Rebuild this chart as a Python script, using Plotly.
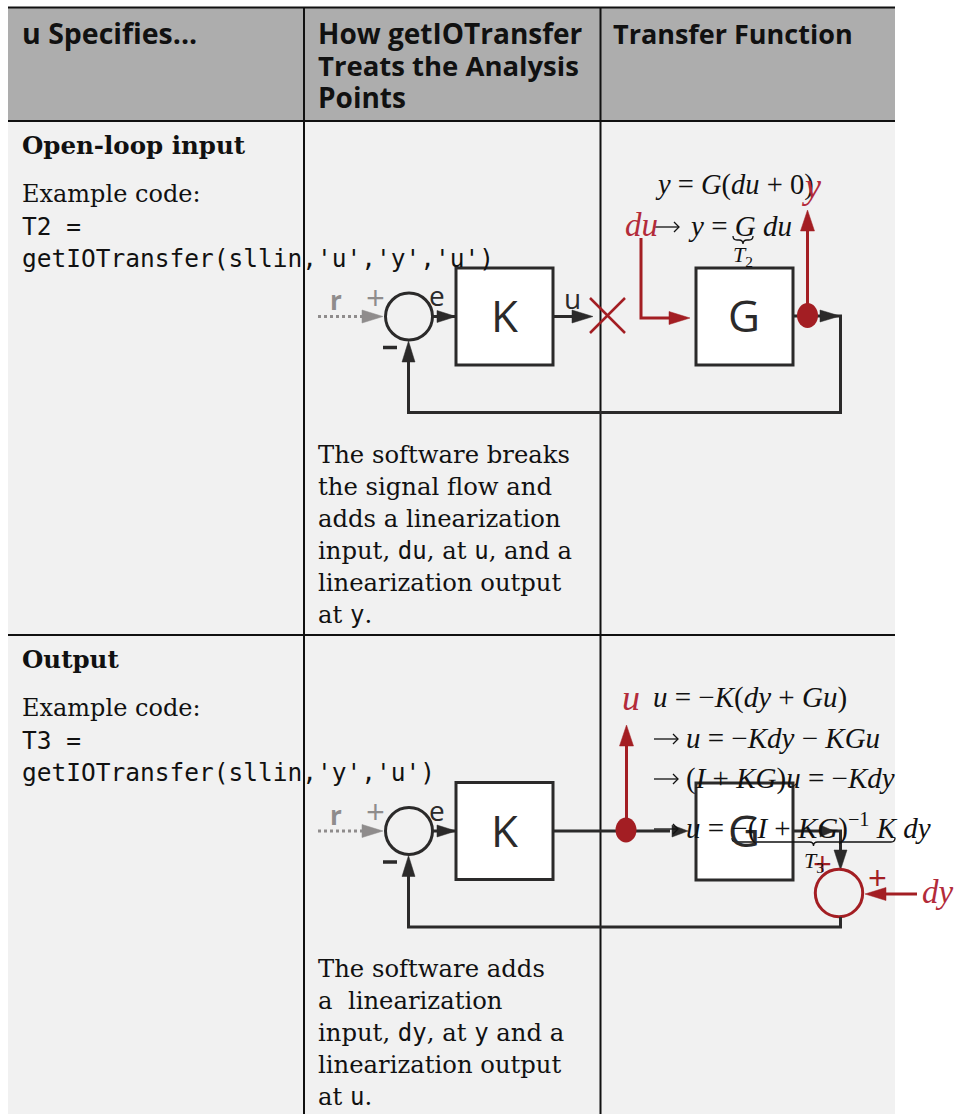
import plotly.graph_objects as go

# table text
col_heads = ["u Specifies...", "How getIOTransfer", "Treats the Analysis", "Points", "Transfer Function"]
row_titles = ["Open-loop input", "Output"]
example_label = "Example code:"
code_row1 = ["T2 =", "getIOTransfer(sllin,'u','y','u')"]
code_row2 = ["T3 =", "getIOTransfer(sllin,'y','u')"]
MONO = "DejaVu Sans Mono"
SERIF = "DejaVu Serif"
MATH = "Liberation Serif"
SANS = "Open Sans"
HEAD = "Open Sans"


def m(s):
    return f'<span style="font-family:{MONO};font-size:24px">{s}</span>'


notes_row1 = ["The software breaks", "the signal flow and", "adds a linearization",
              f"input, {m('du')}, at {m('u')}, and a", "linearization output", f"at {m('y')}."]
notes_row2 = ["The software adds", "a  linearization", f"input, {m('dy')}, at {m('y')} and a",
              "linearization output", f"at {m('u')}."]

INK = "#2b2a2a"
RED = "#a31e23"
MATH_RED = "#b32b3a"
GREY = "#8f8c8c"

shapes = []
notes = []


def text(x, y, s, size, color="#111111", font=SERIF, anchor="left", bold=False):
    notes.append(dict(x=x, y=y, text=f"<b>{s}</b>" if bold else s, showarrow=False, xanchor=anchor,
                      yanchor="middle", align="left", borderpad=0, borderwidth=0,
                      font=dict(size=size, color=color, family=font)))


def line(pts, color=INK, width=3, dash=None):
    path = "M" + " L".join(f"{a},{b}" for a, b in pts)
    shapes.append(dict(type="path", path=path, line=dict(color=color, width=width, dash=dash)))


def rect(x0, y0, x1, y1, fill, color=INK, width=3):
    shapes.append(dict(type="rect", x0=x0, y0=y0, x1=x1, y1=y1, fillcolor=fill,
                       line=dict(color=color, width=width)))


def oval(cx, cy, rx, ry, fill="rgba(0,0,0,0)", color=INK, width=3):
    shapes.append(dict(type="circle", x0=cx - rx, y0=cy - ry, x1=cx + rx, y1=cy + ry,
                       fillcolor=fill, line=dict(color=color, width=width)))


def head(tx, ty, dx, dy, length=21, half=6.5, color=INK):
    # triangle with its tip at tx,ty pointing along dx,dy
    bx, by = tx - dx * length, ty - dy * length
    path = f"M{tx},{ty} L{bx - dy * half},{by - dx * half} L{bx + dy * half},{by + dx * half} Z"
    shapes.append(dict(type="path", path=path, fillcolor=color, line=dict(color=color, width=0.5)))


def brace(x0, x1, y, h):
    mid = (x0 + x1) / 2
    path = (f"M{x0},{y} Q{x0},{y + h / 2} {x0 + 4},{y + h / 2} L{mid - 4},{y + h / 2} "
            f"Q{mid},{y + h / 2} {mid},{y + h} Q{mid},{y + h / 2} {mid + 4},{y + h / 2} "
            f"L{x1 - 4},{y + h / 2} Q{x1},{y + h / 2} {x1},{y}")
    shapes.append(dict(type="path", path=path, line=dict(color="#111111", width=1.3)))


def math_arrow(x, y):
    line([(x, y), (x + 24, y)], color="#111111", width=1.3)
    line([(x + 19, y - 5), (x + 24, y), (x + 19, y + 5)], color="#111111", width=1.3)


def loop_front(dy):
    # reference path, summing circle and K block, shared by both rows
    rect(456, 268 + dy, 553, 365 + dy, "white")
    oval(409, 316.5 + dy, 23.5, 23.5)
    line([(318, 316.5 + dy), (362, 316.5 + dy)], color=GREY, width=3, dash="dot")
    head(383, 316.5 + dy, 1, 0, color=GREY)
    line([(433, 316.5 + dy), (456, 316.5 + dy)])
    head(456, 316.5 + dy, 1, 0, length=19, half=6)
    head(408.5, 341 + dy, 0, -1, length=21, half=6.5)
    line([(383, 347.5 + dy), (397, 347.5 + dy)], width=3.5)
    text(336, 300 + dy, "<b>r</b>", 26, GREY, SANS, "center")
    text(375, 297 + dy, "+", 33, GREY, SANS, "center")
    text(437, 295 + dy, "e", 28, INK, SANS, "center")
    text(504.5, 315 + dy, "K", 44, INK, SANS, "center")


# table background, header and rules
rect(8, 121, 895, 1114, "#f1f1f1", "#f1f1f1", 0)
rect(8, 8, 895, 121, "#adadad", "#adadad", 0)
line([(8, 7.5), (895, 7.5)], "#111111", 2)
line([(8, 121), (895, 121)], "#111111", 2)
line([(8, 635), (895, 635)], "#111111", 2)
line([(304, 8), (304, 1114)], "#111111", 2)
line([(600.5, 8), (600.5, 1114)], "#111111", 2)

text(22, 33, col_heads[0], 28.5, "#111111", HEAD, bold=True)
text(318, 33, col_heads[1], 28, "#111111", HEAD, bold=True)
text(318, 65, col_heads[2], 27.5, "#111111", HEAD, bold=True)
text(318, 97, col_heads[3], 28, "#111111", HEAD, bold=True)
text(613, 33, col_heads[4], 27, "#111111", HEAD, bold=True)

# first column
text(22, 145, row_titles[0], 24.5, bold=True)
text(22, 194, example_label, 24)
text(22, 226, code_row1[0], 24.5, font=MONO)
text(22, 258, code_row1[1], 24.5, font=MONO)
text(22, 659, row_titles[1], 24.5, bold=True)
text(22, 708, example_label, 24)
text(22, 740, code_row2[0], 24.5, font=MONO)
text(22, 772, code_row2[1], 24.5, font=MONO)

# second column notes
for y, s in zip([454, 486, 518, 550, 582, 614], notes_row1):
    text(318, y, s, 24.3)
for y, s in zip([968, 1000, 1032, 1064, 1096], notes_row2):
    text(318, y, s, 24.3)

# open-loop input diagram
loop_front(0)
line([(553, 316.5), (575, 316.5)])
head(593, 316.5, 1, 0)
text(572, 298, "u", 28, INK, SANS, "center")
line([(590, 298), (625, 333)], RED, 2.5)
line([(590, 333), (625, 298)], RED, 2.5)
line([(408.5, 360), (408.5, 412.5), (840.5, 412.5), (840.5, 316), (793, 316)])
head(840, 316, 1, 0, length=20, half=6)
rect(696, 268, 793, 365, "white")
text(744, 315, "G", 44, INK, SANS, "center")
oval(807.5, 315.5, 10.5, 12.5, RED, RED, 0)
line([(807.5, 230), (807.5, 315)], RED, 3)
head(807.5, 210, 0, -1, half=7, color=RED)
line([(641, 238), (641, 318), (670, 318)], RED, 3)
head(690, 318, 1, 0, color=RED)

text(655, 185, "<i>y</i> = <i>G</i>(<i>du</i> + 0)", 28.5, font=MATH)
text(802, 186, "<i>y</i>", 36, MATH_RED, MATH)
text(625, 225, "<i>du</i>", 33, MATH_RED, MATH)
math_arrow(655, 227)
text(688, 226, "<i>y</i> = <i>G du</i>", 29, font=MATH)
brace(733, 753, 236, 8)
text(733, 256, "<i>T</i><sub>2</sub>", 22, font=MATH)

# output diagram
loop_front(514.5)
line([(553, 831), (670, 831)])
head(688, 831, 1, 0, length=16, half=6)
rect(696, 783, 793, 880, "white")
text(744, 829.5, "G", 44, INK, SANS, "center")
oval(626, 830, 10.5, 12.5, RED, RED, 0)
line([(626.5, 745), (626.5, 830)], RED, 3)
head(626.5, 725, 0, -1, half=7, color=RED)
line([(793, 831), (840.5, 831), (840.5, 855)])
head(834, 831, 1, 0, length=14, half=6)
head(840.5, 870, 0, 1, length=20, half=6.5)
oval(839, 893, 23.7, 23.7, "rgba(0,0,0,0)", RED, 3)
line([(840.5, 917), (840.5, 927), (408.5, 927), (408.5, 875)])
line([(886, 894), (917, 894)], RED, 3)
head(865, 894, -1, 0, color=RED)
text(877, 877, "+", 33, RED, SANS, "center")
text(822, 863, "+", 33, RED, SANS, "center")
text(922, 892, "<i>dy</i>", 33, MATH_RED, MATH)
text(622, 698, "<i>u</i>", 36, MATH_RED, MATH)

text(653, 697, "<i>u</i> = −<i>K</i>(<i>dy</i> + <i>Gu</i>)", 29, font=MATH)
math_arrow(654, 739)
text(686, 738, "<i>u</i> = −<i>Kdy</i> − <i>KGu</i>", 29, font=MATH)
math_arrow(654, 779)
text(686, 778, "(<i>I</i> + <i>KG</i>)<i>u</i> = −<i>Kdy</i>", 29, font=MATH)
math_arrow(654, 829)
text(686, 826, "<i>u</i> = −(<i>I</i> + <i>KG</i>)<sup>−1</sup> <i>K dy</i>", 29, font=MATH)
brace(732, 895, 838, 8)
text(804, 862, "<i>T</i><sub>3</sub>", 22, font=MATH)

fig = go.Figure()
fig.update_layout(width=963, height=1114, margin=dict(l=0, r=0, t=0, b=0), autosize=False,
                  paper_bgcolor="white", plot_bgcolor="white", showlegend=False,
                  xaxis=dict(range=[0, 963], visible=False, fixedrange=True),
                  yaxis=dict(range=[1114, 0], visible=False, fixedrange=True),
                  shapes=shapes, annotations=notes)

fig.write_html("out.html", post_script="document.body.style.margin='0';",
               config=dict(displayModeBar=False))
